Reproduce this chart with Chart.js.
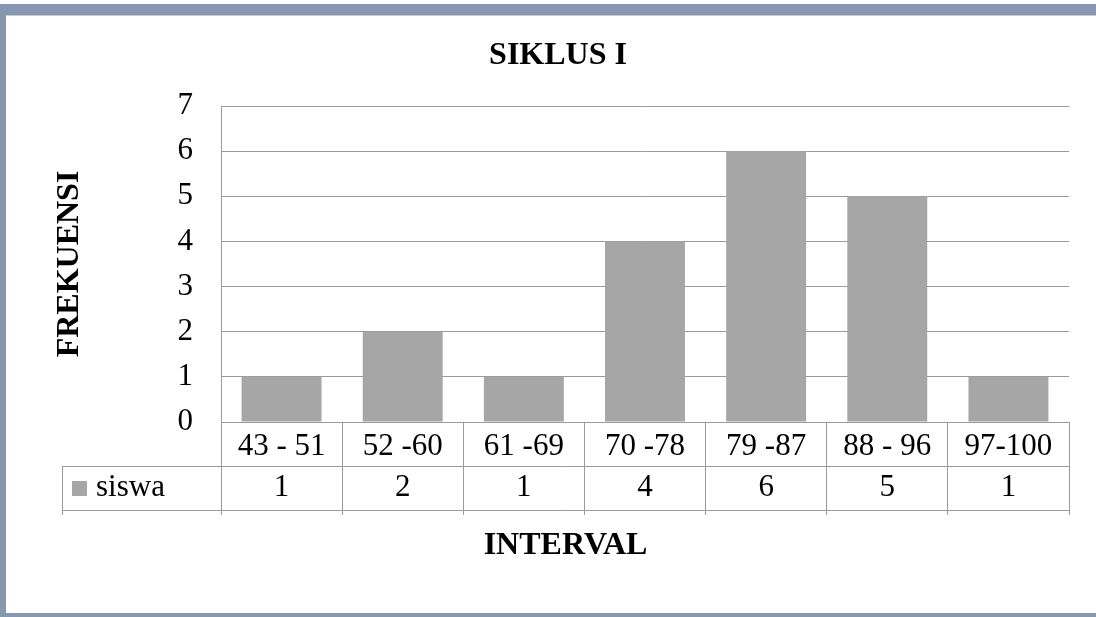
<!DOCTYPE html>
<html>
<head>
<meta charset="utf-8">
<script src="https://cdn.jsdelivr.net/npm/chart.js@4.4.0/dist/chart.umd.min.js"></script>
<style>
html, body { margin: 0; padding: 0; background: #fff; }
#wrap { position: relative; width: 1096px; height: 617px; overflow: hidden; }
.band { position: absolute; background: #8797b0; }
canvas { position: absolute; left: 0; top: 0; }
</style>
</head>
<body>
<div id="wrap">
  <div class="band" style="left:0;top:4px;width:1096px;height:11px"></div>
  <div style="position:absolute;left:6px;top:15px;width:1090px;height:1px;background:#c9ccd2"></div>
  <div class="band" style="left:0;top:4px;width:6px;height:613px"></div>
  <div class="band" style="left:0;top:613px;width:1096px;height:4px"></div>
  <canvas id="c" width="1096" height="617"></canvas>
</div>
<script>
var categories = ["43 - 51", "52 -60", "61 -69", "70 -78", "79 -87", "88 - 96", "97-100"];
var siswa = [1, 2, 1, 4, 6, 5, 1];
var seriesName = "siswa";
var yMin = 0, yMax = 7, yStep = 1;

var lineColor = "#9a9a9a";
var barColor = "#a6a6a6";
var serif = "'Liberation Serif', 'Times New Roman', serif";

Chart.defaults.font.family = serif;
Chart.defaults.color = "#000";

// Excel style data table under the plot, drawn from the x scale positions
var dataTable = {
    id: "dataTable",
    afterDraw: function (chart) {
        var ctx = chart.ctx;
        var x = chart.scales.x;
        var area = chart.chartArea;
        var rowTop = area.bottom + 44;
        var rowBottom = area.bottom + 88;
        var left = 62;
        ctx.save();
        ctx.strokeStyle = lineColor;
        ctx.lineWidth = 1;
        ctx.beginPath();
        ctx.moveTo(left, Math.round(rowTop) + 0.5);
        ctx.lineTo(area.right, Math.round(rowTop) + 0.5);
        ctx.moveTo(left, Math.round(rowBottom) + 0.5);
        ctx.lineTo(area.right, Math.round(rowBottom) + 0.5);
        ctx.moveTo(left + 0.5, rowTop);
        ctx.lineTo(left + 0.5, area.bottom + 93);
        ctx.stroke();

        var midY = (rowTop + rowBottom) / 2;
        ctx.fillStyle = barColor;
        ctx.fillRect(72, midY - 7, 15, 15);

        ctx.fillStyle = "#000";
        ctx.font = "31px " + serif;
        ctx.textBaseline = "middle";
        ctx.textAlign = "left";
        ctx.fillText(seriesName, 96, midY);
        ctx.textAlign = "center";
        for (var i = 0; i < siswa.length; i++) {
            ctx.fillText(String(siswa[i]), x.getPixelForValue(i), midY);
        }

        ctx.font = "bold 32px " + serif;
        ctx.fillText("INTERVAL", (left + area.right) / 2, 546);
        ctx.restore();
    }
};

new Chart(document.getElementById("c"), {
    type: "bar",
    data: {
        labels: categories,
        datasets: [
            {
                label: seriesName,
                data: siswa,
                backgroundColor: barColor,
                barPercentage: 0.66,
                categoryPercentage: 1
            }
        ]
    },
    options: {
        responsive: false,
        animation: false,
        layout: { padding: { left: 47, right: 27, top: 0, bottom: 0 } },
        plugins: {
            legend: { display: false },
            tooltip: { enabled: false },
            title: {
                display: true,
                text: "SIKLUS I",
                color: "#000",
                font: { size: 32, weight: "bold" },
                padding: { top: 37, bottom: 30.6 }
            }
        },
        scales: {
            x: {
                grid: {
                    offset: true,
                    drawOnChartArea: false,
                    drawTicks: true,
                    tickLength: 93,
                    color: lineColor
                },
                border: { display: true, color: lineColor },
                ticks: {
                    font: { size: 31 },
                    color: "#000",
                    padding: -87,
                    autoSkip: false,
                    maxRotation: 0
                },
                afterFit: function (scale) { scale.height = 195; }
            },
            y: {
                min: yMin,
                max: yMax,
                grid: { drawTicks: false, color: lineColor },
                border: { display: true, color: lineColor },
                ticks: {
                    stepSize: yStep,
                    font: { size: 31 },
                    color: "#000",
                    padding: 28
                },
                title: {
                    display: true,
                    text: "FREKUENSI",
                    color: "#000",
                    font: { size: 32, weight: "bold" },
                    padding: { top: 4, bottom: 0 }
                },
                afterFit: function (scale) { scale.width = 174; }
            }
        }
    },
    plugins: [dataTable]
});
</script>
</body>
</html>
